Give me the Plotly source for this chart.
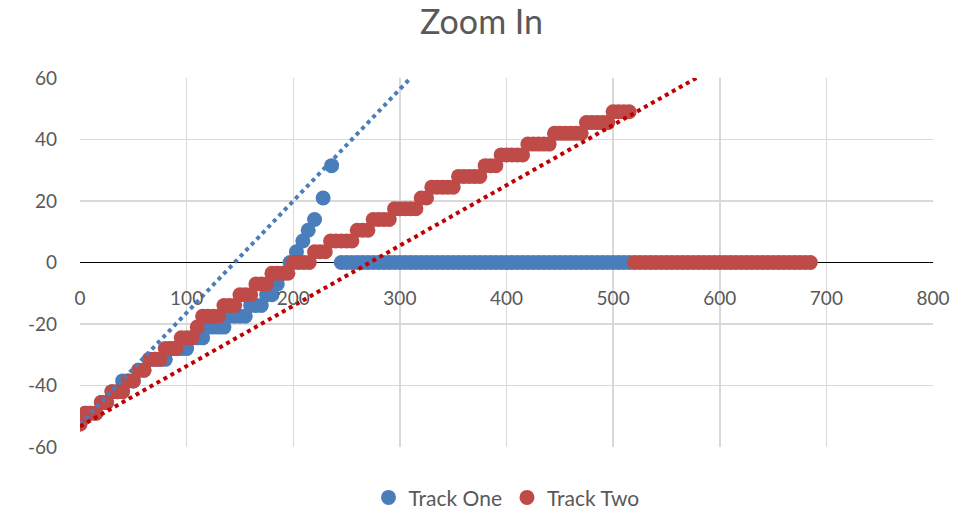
import plotly.graph_objects as go

# ---- data ----
track_one_x = [0, 5, 10, 15, 20, 25, 30, 35, 40, 45, 50, 55, 60, 65, 70, 75, 80,
               85, 90, 95, 100, 105, 110, 115, 120, 125, 130, 135, 140, 145, 150,
               155, 160, 165, 170, 175, 180, 185, 191, 197, 203, 209, 214, 220,
               228, 236,
               245, 250, 255, 260, 265, 270, 275, 280, 285, 290, 295, 300, 305,
               310, 315, 320, 325, 330, 335, 340, 345, 350, 355, 360, 365, 370,
               375, 380, 385, 390, 395, 400, 405, 410, 415, 420, 425, 430, 435,
               440, 445, 450, 455, 460, 465, 470, 475, 480, 485, 490, 495, 500,
               505, 510, 515]
track_one_y = [-52.5, -49, -49, -49, -45.5, -45.5, -42, -42, -38.5, -38.5, -38.5,
               -35, -35, -31.5, -31.5, -31.5, -31.5, -28, -28, -28, -28, -24.5,
               -24.5, -24.5, -21, -21, -21, -21, -17.5, -17.5, -17.5, -17.5, -14,
               -14, -14, -10.5, -10.5, -7, -3.5, 0, 3.5, 7, 10.5, 14, 21, 31.5,
               0, 0, 0, 0, 0, 0, 0, 0, 0, 0, 0, 0, 0, 0, 0, 0, 0, 0, 0, 0, 0, 0,
               0, 0, 0, 0, 0, 0, 0, 0, 0, 0, 0, 0, 0, 0, 0, 0, 0, 0, 0, 0, 0, 0,
               0, 0, 0, 0, 0, 0, 0, 0, 0, 0, 0]

track_two_x = [0, 5, 10, 15, 20, 25, 30, 35, 40, 45, 50, 55, 60, 65, 70, 75, 80,
               85, 90, 95, 100, 105, 110, 115, 120, 125, 130, 135, 140, 145, 150,
               155, 160, 165, 170, 175, 180, 185, 190, 195, 200, 205, 210, 215,
               220, 225, 230, 235, 240, 245, 250, 255, 260, 265, 270, 275, 280,
               285, 290, 295, 300, 305, 310, 315, 320, 325, 330, 335, 340, 345,
               350, 355, 360, 365, 370, 375, 380, 385, 390, 395, 400, 405, 410,
               415, 420, 425, 430, 435, 440, 445, 450, 455, 460, 465, 470, 475,
               480, 485, 490, 495, 500, 505, 510, 515,
               520, 525, 530, 535, 540, 545, 550, 555, 560, 565, 570, 575, 580,
               585, 590, 595, 600, 605, 610, 615, 620, 625, 630, 635, 640, 645,
               650, 655, 660, 665, 670, 675, 680, 685]
track_two_y = [-52.5,
               -49, -49, -49,
               -45.5, -45.5,
               -42, -42, -42,
               -38.5, -38.5,
               -35, -35,
               -31.5, -31.5, -31.5,
               -28, -28, -28,
               -24.5, -24.5, -24.5,
               -21,
               -17.5, -17.5, -17.5, -17.5,
               -14, -14, -14,
               -10.5, -10.5, -10.5,
               -7, -7, -7,
               -3.5, -3.5, -3.5, -3.5,
               0, 0, 0, 0,
               3.5, 3.5, 3.5,
               7, 7, 7, 7, 7,
               10.5, 10.5, 10.5,
               14, 14, 14, 14,
               17.5, 17.5, 17.5, 17.5, 17.5,
               21, 21,
               24.5, 24.5, 24.5, 24.5, 24.5,
               28, 28, 28, 28, 28,
               31.5, 31.5, 31.5,
               35, 35, 35, 35, 35,
               38.5, 38.5, 38.5, 38.5, 38.5,
               42, 42, 42, 42, 42, 42,
               45.5, 45.5, 45.5, 45.5, 45.5,
               49, 49, 49, 49,
               0, 0, 0, 0, 0, 0, 0, 0, 0, 0, 0, 0, 0, 0, 0, 0, 0, 0, 0, 0, 0,
               0, 0, 0, 0, 0, 0, 0, 0, 0, 0, 0, 0, 0]

trend_one_x = [0, 310]
trend_one_y = [-52.7, 60]
trend_two_x = [0, 578]
trend_two_y = [-53.3, 60]

x_ticks = [0, 100, 200, 300, 400, 500, 600, 700, 800]
y_ticks = [-60, -40, -20, 0, 20, 40, 60]

BLUE = "#4A7EBB"
RED = "#BE4B48"
TREND_RED = "#C00000"
FONT = "Lato"
GREY = "#595959"

fig = go.Figure()
fig.add_trace(go.Scatter(x=track_one_x, y=track_one_y, mode="markers",
                         name="Track One",
                         marker=dict(size=15, color=BLUE, line=dict(width=0))))
fig.add_trace(go.Scatter(x=track_two_x, y=track_two_y, mode="markers",
                         name="Track Two",
                         marker=dict(size=15, color=RED, line=dict(width=0))))
fig.add_trace(go.Scatter(x=trend_one_x, y=trend_one_y, mode="lines",
                         showlegend=False, hoverinfo="skip",
                         line=dict(color=BLUE, width=4, dash="4px,4px")))
fig.add_trace(go.Scatter(x=trend_two_x, y=trend_two_y, mode="lines",
                         showlegend=False, hoverinfo="skip",
                         line=dict(color=TREND_RED, width=4, dash="4px,4px")))

fig.update_layout(
    width=963, height=512,
    margin=dict(l=80, r=30, t=78, b=65, autoexpand=False),
    paper_bgcolor="white", plot_bgcolor="white",
    font=dict(family=FONT, color=GREY, size=19),
    title=dict(text="Zoom In", x=0.5, xanchor="center", y=0.957, yanchor="middle",
               font=dict(family=FONT, size=34, color=GREY), automargin=False),
    showlegend=True,
    legend=dict(orientation="h", x=0.5, xanchor="center", y=-0.082, yanchor="top",
                font=dict(family=FONT, size=21, color=GREY),
                traceorder="normal", itemwidth=30),
    xaxis=dict(range=[0, 800], tickvals=x_ticks, ticktext=[str(v) for v in x_ticks],
               anchor="free", position=0.5, showline=False, zeroline=False,
               showgrid=True, gridcolor="#D9D9D9", gridwidth=1.5, automargin=False,
               ticks="", ticklabelstandoff=22, fixedrange=True),
    yaxis=dict(range=[-60, 60], tickvals=y_ticks, ticktext=[str(v) for v in y_ticks],
               showgrid=True, gridcolor="#D9D9D9", gridwidth=1.5, automargin=False,
               zeroline=True, zerolinecolor="black", zerolinewidth=1.2,
               showline=False, ticks="", ticklabelstandoff=22, fixedrange=True),
)

fig.write_html("out.html",
               config={"displayModeBar": False, "staticPlot": True},
               post_script="document.body.style.margin='0';"
                           "document.body.style.overflow='hidden';")
